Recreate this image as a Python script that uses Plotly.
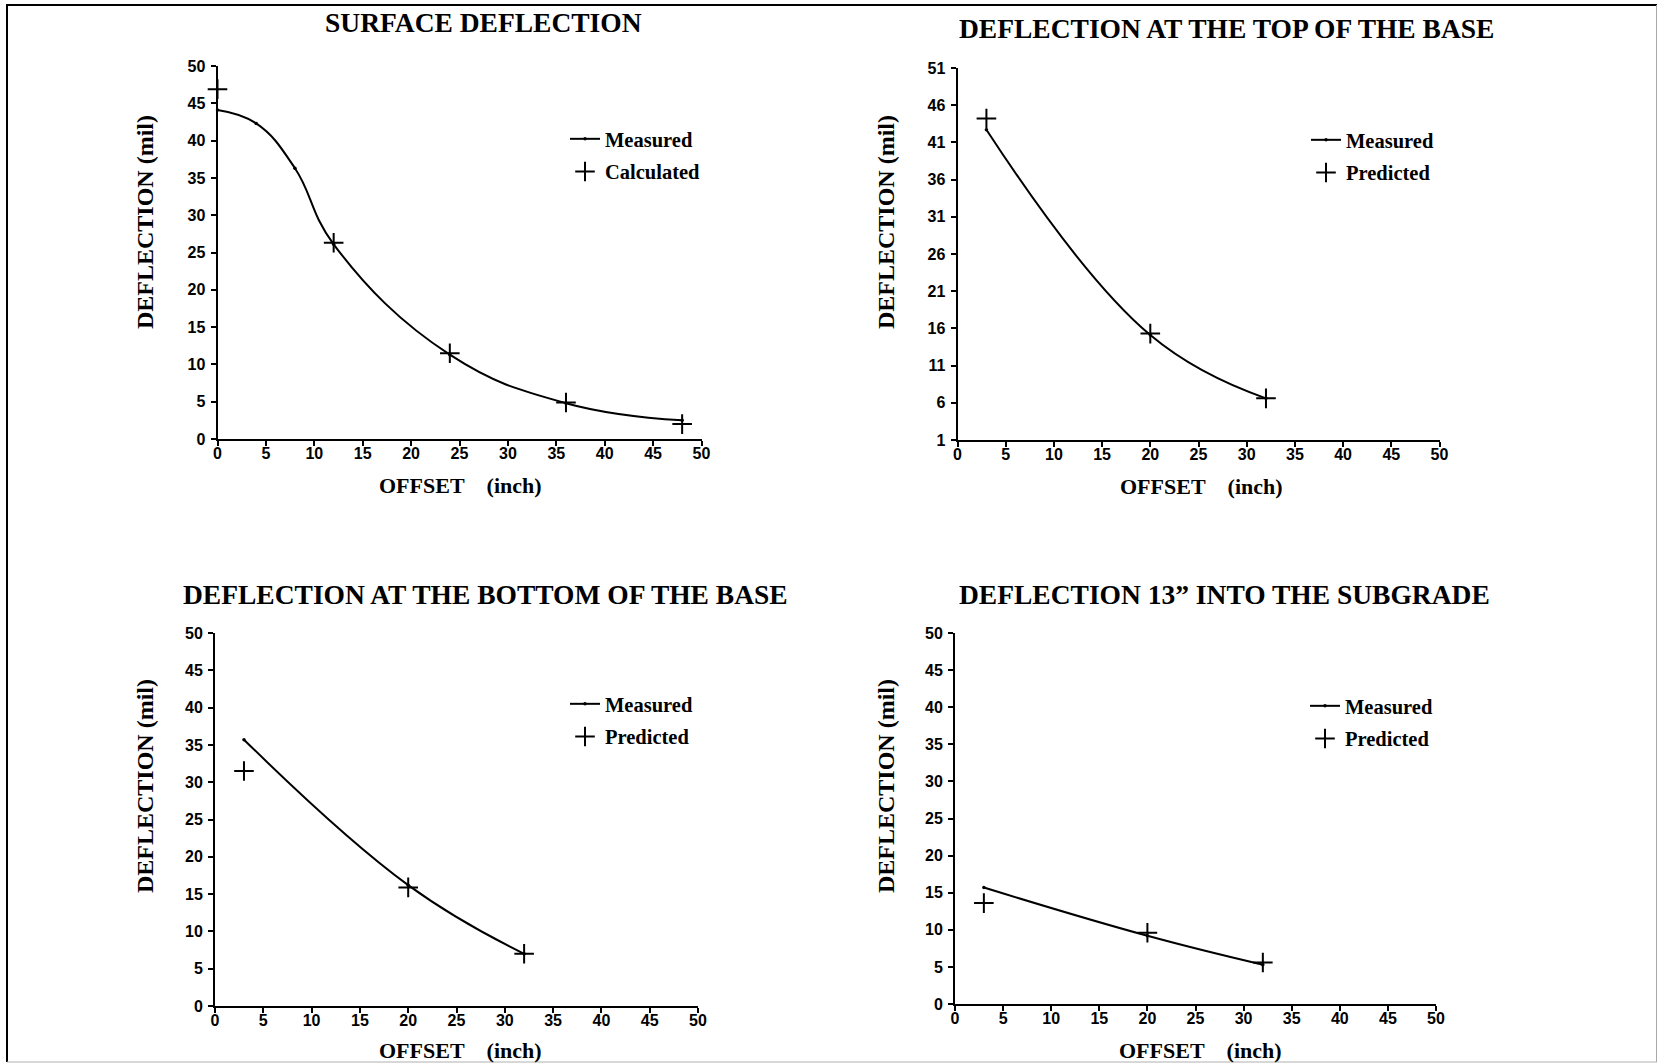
import plotly.graph_objects as go

# ---- data -------------------------------------------------------------
surface_offset_meas = [0, 4, 8, 12, 24, 36, 48]
surface_defl_meas = [44.1, 42.3, 36.3, 26.1, 11.3, 4.8, 2.5]
surface_offset_calc = [0, 12, 24, 36, 48]
surface_defl_calc = [46.9, 26.3, 11.5, 4.9, 2.0]

top_offset = [3, 20, 32]
top_defl_meas = [42.7, 15.1, 6.6]
top_defl_pred = [44.2, 15.3, 6.6]

bottom_offset = [3, 20, 32]
bottom_defl_meas = [35.7, 16.2, 7.0]
bottom_defl_pred = [31.5, 15.9, 7.0]

sub_offset = [3, 20, 32]
sub_defl_meas = [15.7, 9.2, 5.3]
sub_defl_pred = [13.6, 9.6, 5.6]

x_ticks = [0, 5, 10, 15, 20, 25, 30, 35, 40, 45, 50]
y_ticks_std = [0, 5, 10, 15, 20, 25, 30, 35, 40, 45, 50]
y_ticks_top = [1, 6, 11, 16, 21, 26, 31, 36, 41, 46, 51]

titles = ["SURFACE DEFLECTION", "DEFLECTION AT THE TOP OF THE BASE",
          "DEFLECTION AT THE BOTTOM OF THE BASE", "DEFLECTION 13\u201d INTO THE SUBGRADE"]
second_names = ["Calculated", "Predicted", "Predicted", "Predicted"]
x_label = "OFFSET\u00a0\u00a0\u00a0\u00a0(inch)"
y_label = "DEFLECTION (mil)"

# ---- layout helpers ---------------------------------------------------
W, H = 1658, 1064
SERIF = "Liberation Serif"
SANS = "Liberation Sans"


def px_x(v):
    return v / W


def px_y(v):
    return 1 - v / H


# plot boxes in pixels: left, right, top, bottom
boxes = [(217.5, 701.5, 66, 439), (957.5, 1439.5, 68, 440),
         (215, 698, 633, 1006), (955, 1436, 633, 1004)]

fig = go.Figure()

series = [
    (surface_offset_meas, surface_defl_meas, surface_offset_calc, surface_defl_calc),
    (top_offset, top_defl_meas, top_offset, top_defl_pred),
    (bottom_offset, bottom_defl_meas, bottom_offset, bottom_defl_pred),
    (sub_offset, sub_defl_meas, sub_offset, sub_defl_pred),
]

# legend anchor (left, top) in pixels
legend_pos = [(565, 119), (1306, 120), (565, 684), (1305, 686)]

for i, (xm, ym, xp, yp) in enumerate(series):
    n = "" if i == 0 else str(i + 1)
    leg = "legend" + n
    fig.add_trace(go.Scatter(
        x=xm, y=ym, mode="lines+markers", name="Measured",
        line=dict(color="black", width=2, shape="spline", smoothing=1.2),
        marker=dict(color="black", size=3.5),
        xaxis="x" + n, yaxis="y" + n, legend=leg, legendgroup=f"m{i}",
        cliponaxis=False))
    fig.add_trace(go.Scatter(
        x=xp, y=yp, mode="markers", name=second_names[i],
        marker=dict(symbol="cross-thin", size=14, color="black",
                    line=dict(color="black", width=2)),
        xaxis="x" + n, yaxis="y" + n, legend=leg, legendgroup=f"p{i}",
        cliponaxis=False))

axis_common = dict(showgrid=False, zeroline=False, showline=True, linecolor="black",
                   linewidth=2, ticks="outside", tickcolor="black", tickwidth=2,
                   ticklen=5, mirror=False, automargin=False,
                   tickfont=dict(family=SANS, size=16, color="black", weight="bold"))

layout = dict(width=W, height=H,
              margin=dict(l=0, r=0, t=0, b=0, pad=0, autoexpand=False),
              paper_bgcolor="white", plot_bgcolor="white", showlegend=True)

for i, (l, r, t, b) in enumerate(boxes):
    n = "" if i == 0 else str(i + 1)
    yt = y_ticks_top if i == 1 else y_ticks_std
    layout["xaxis" + n] = dict(axis_common, domain=[px_x(l), px_x(r)], range=[0, 50],
                               tickvals=x_ticks, anchor="y" + n, ticklabelstandoff=-6)
    layout["yaxis" + n] = dict(axis_common, domain=[px_y(b), px_y(t)], range=[yt[0], yt[-1]],
                               tickvals=yt, anchor="x" + n, ticklabelstandoff=2)
    lx, ly = legend_pos[i]
    layout["legend" + n] = dict(x=px_x(lx), y=px_y(ly), xanchor="left", yanchor="top",
                                bgcolor="rgba(0,0,0,0)", borderwidth=0,
                                font=dict(family=SERIF, size=20.5, color="black", weight="bold"),
                                traceorder="grouped", tracegroupgap=3, itemwidth=30)

fig.update_layout(**layout)

# panel titles and axis labels (pixels)
title_pos = [(483, 23), (1226, 28.5), (485, 594), (1224, 594)]
xlab_pos = [(460, 485), (1201, 486), (460, 1050), (1200, 1050)]
ylab_pos = [(145, 222), (886, 222), (145, 786), (886, 786)]
for i in range(4):
    tx, ty = title_pos[i]
    fig.add_annotation(text="<b>" + titles[i] + "</b>", x=px_x(tx), y=px_y(ty),
                       xref="paper", yref="paper", showarrow=False,
                       xanchor="center", yanchor="middle",
                       font=dict(family=SERIF, size=27.5, color="black"))
    xx, xy = xlab_pos[i]
    fig.add_annotation(text="<b>" + x_label + "</b>", x=px_x(xx), y=px_y(xy),
                       xref="paper", yref="paper", showarrow=False,
                       xanchor="center", yanchor="middle",
                       font=dict(family=SERIF, size=22, color="black"))
    yx, yy = ylab_pos[i]
    fig.add_annotation(text="<b>" + y_label + "</b>", x=px_x(yx), y=px_y(yy),
                       xref="paper", yref="paper", showarrow=False, textangle=-90,
                       xanchor="center", yanchor="middle",
                       font=dict(family=SERIF, size=24, color="black"))

# page frame
fig.add_shape(type="line", xref="paper", yref="paper", x0=px_x(7), x1=px_x(7),
              y0=px_y(5), y1=px_y(1062), line=dict(color="black", width=2))
fig.add_shape(type="line", xref="paper", yref="paper", x0=px_x(6), x1=px_x(1657),
              y0=px_y(5), y1=px_y(5), line=dict(color="black", width=2))
fig.add_shape(type="line", xref="paper", yref="paper", x0=px_x(1656.5), x1=px_x(1656.5),
              y0=px_y(5), y1=px_y(1062), line=dict(color="#a8a8a8", width=1))
fig.add_shape(type="line", xref="paper", yref="paper", x0=px_x(7), x1=px_x(1657),
              y0=px_y(1062), y1=px_y(1062), line=dict(color="#b0b0b0", width=1))

fig.write_html("out.html")
